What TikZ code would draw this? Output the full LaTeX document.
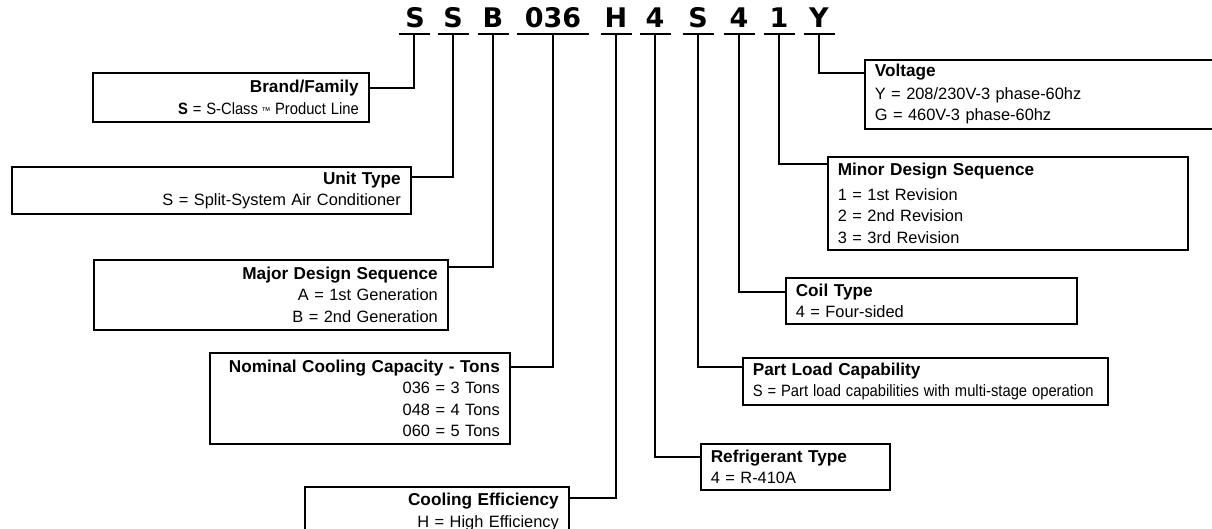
\documentclass[tikz,border=0pt]{standalone}
\usepackage{graphicx}
\usepackage{fontspec}
\setmainfont{Liberation Sans}
\newfontfamily\hdrfont{DejaVu Sans}
\newcommand{\ttl}[1]{{\fontsize{17.2}{21.5}\selectfont\bfseries #1}}
\begin{document}
\begin{tikzpicture}[x=1pt,y=-1pt,
  code/.style={font=\hdrfont\bfseries\fontsize{27}{27}\selectfont, inner sep=0pt, anchor=base},
  uline/.style={line width=1.8pt},
  conn/.style={line width=1.8pt},
  box/.style={draw, line width=1.6pt, anchor=north west, inner xsep=10pt, inner ysep=0pt,
              font=\fontsize{16.4}{21.5}\selectfont},
  lbox/.style={box, align=right},
  rbox/.style={box, align=left}]
\useasboundingbox (0,0) rectangle (1212,529);
\clip (0,0) rectangle (1212,529);
\fill[white] (0,0) rectangle (1212,529);

% code letters
\node[code] (c1) at (415,28) {S};
\node[code] (c2) at (453,28) {S};
\node[code] (c3) at (493,28) {B};
\node[code] (c4) at (553,28) {036};
\node[code] (c5) at (616,28) {H};
\node[code] (c6) at (655,28) {4};
\node[code] (c7) at (698,28) {S};
\node[code] (c8) at (739,28) {4};
\node[code] (c9) at (779,28) {1};
\node[code] (c10) at (819,28) {Y};

\coordinate (u1) at (414,34);
\coordinate (u2) at (453,34);
\coordinate (u3) at (493,34);
\coordinate (u4) at (553,34);
\coordinate (u5) at (616,34);
\coordinate (u6) at (655,34);
\coordinate (u7) at (698,34);
\coordinate (u8) at (739,34);
\coordinate (u9) at (779,34);
\coordinate (u10) at (819,34);

\foreach \u in {u1,u2,u3,u5,u6,u7,u8,u9,u10}
  \draw[uline] ([xshift=-15.5pt]\u) -- ([xshift=15.5pt]\u);
\draw[uline] ([xshift=-36pt]u4) -- ([xshift=36pt]u4);

% left boxes
\node[lbox, minimum width=276pt, minimum height=49pt, text width=256pt] (brand) at (92,72)
  {\ttl{Brand/Family}\\\scalebox{0.9}[1]{\textbf{S} = S-Class\hspace{4pt}{\fontsize{10}{10}\selectfont ™}\hspace{5pt}Product Line}};
\node[lbox, minimum width=399pt, minimum height=47pt, text width=379pt] (unit) at (11,166)
  {\ttl{Unit Type}\\S = Split-System Air Conditioner};
\node[lbox, minimum width=354pt, minimum height=70pt, text width=334pt] (major) at (93,259)
  {\ttl{Major Design Sequence}\\A = 1st Generation\\B = 2nd Generation};
\node[lbox, minimum width=300pt, minimum height=91pt, text width=280pt] (nom) at (209,352)
  {\ttl{Nominal Cooling Capacity - Tons}\\036 = 3 Tons\\048 = 4 Tons\\060 = 5 Tons};
\node[lbox, minimum width=264pt, minimum height=50pt, text width=244pt] (eff) at (304,486)
  {\ttl{Cooling Efficiency}\\H = High Efficiency};

% right boxes
\node[rbox, minimum width=366pt, minimum height=69pt, text width=346pt] (volt) at (864,59)
  {\ttl{Voltage}\\[1pt]Y = 208/230V-3 phase-60hz\\G = 460V-3 phase-60hz};
\node[rbox, minimum width=360pt, minimum height=93pt, text width=340pt] (minor) at (827,156)
  {\ttl{Minor Design Sequence}\\[3pt]1 = 1st Revision\\2 = 2nd Revision\\3 = 3rd Revision};
\node[rbox, minimum width=291pt, minimum height=46pt, text width=271pt] (coil) at (785,277)
  {\ttl{Coil Type}\\4 = Four-sided};
\node[rbox, minimum width=365pt, minimum height=47pt, text width=345pt] (part) at (742,357)
  {\ttl{Part Load Capability}\\\scalebox{0.9}[1]{S = Part load capabilities with multi-stage operation}};
\node[rbox, minimum width=189pt, minimum height=46pt, text width=169pt] (refr) at (700,443)
  {\ttl{Refrigerant Type}\\4 = R-410A};

% connectors
\draw[conn] (u1) |- ([yshift=-16pt]brand.north east);
\draw[conn] (u2) |- ([yshift=-11pt]unit.north east);
\draw[conn] (u3) |- ([yshift=-8pt]major.north east);
\draw[conn] (u4) |- ([yshift=-15pt]nom.north east);
\draw[conn] (u5) |- ([yshift=-12pt]eff.north east);
\draw[conn] (u6) |- ([yshift=-14pt]refr.north west);
\draw[conn] (u7) |- ([yshift=-10pt]part.north west);
\draw[conn] (u8) |- ([yshift=-15pt]coil.north west);
\draw[conn] (u9) |- ([yshift=-8pt]minor.north west);
\draw[conn] (u10) |- ([yshift=-14pt]volt.north west);
\end{tikzpicture}
\end{document}
